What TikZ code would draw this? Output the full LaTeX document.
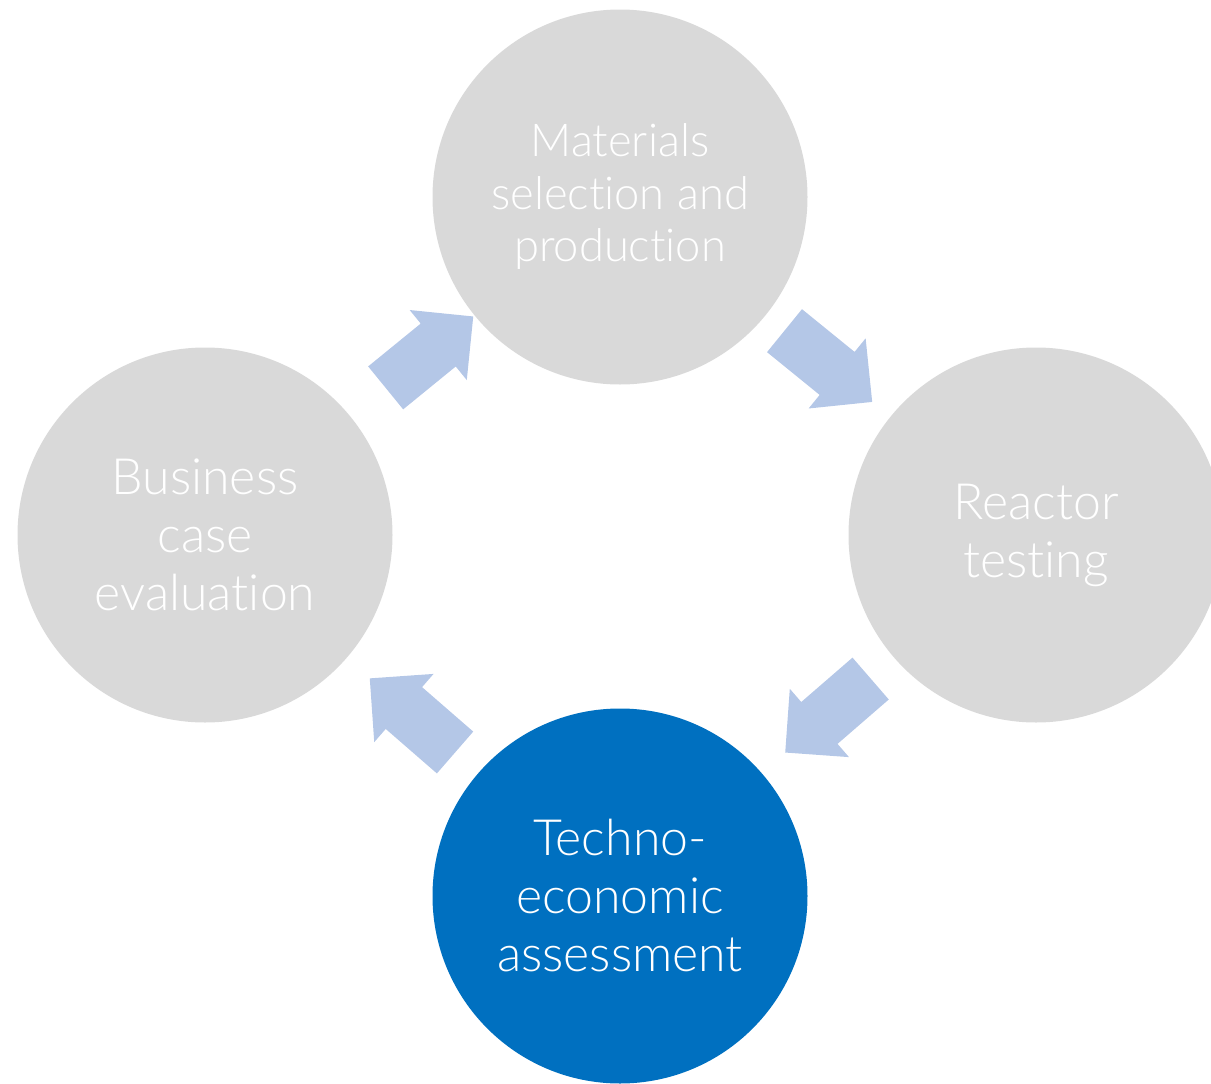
\documentclass[tikz,border=0pt]{standalone}
\usepackage{fontspec}
\setmainfont{Lato}[UprightFont={* Light}, Ligatures={NoCommon}]
\usepackage{xcolor}
\usetikzlibrary{positioning, calc, shapes.arrows}
\definecolor{stagegray}{HTML}{D9D9D9}
\definecolor{stageblue}{HTML}{0070C0}
\definecolor{flowblue}{HTML}{B4C7E7}
\tikzset{
  stage/.style={circle, draw=none, fill=stagegray, minimum size=375pt,
    inner sep=0pt, text=white, align=center,
    font=\fontsize{50}{58}\selectfont}, % one step of the cycle
  active/.style={fill=stageblue}, % the highlighted step
  flow/.style={single arrow, draw=none, fill=flowblue,
    inner xsep=0pt, inner ysep=27.5pt,
    minimum height=113pt, minimum width=90pt,
    single arrow head extend=17.5pt, single arrow tip angle=90}, % block arrows
}

\begin{document}
\begin{tikzpicture}[node distance=338pt and 416pt, on grid]
    \path[use as bounding box, clip] (0,0) rectangle (1211pt,-1084pt);

    \node[stage, font=\fontsize{45.3}{52.5}\selectfont] (mat) at (620pt,-197pt)
      {Materials\\selection and\\production};
    \node[stage, below right=of mat] (reac) {Reactor\\testing};
    \node[stage, active, below=699pt of mat] (tea) {Techno-\\economic\\assessment};
    \node[stage, below left=338pt and 415pt of mat] (busi) {Business\\case\\evaluation};

    % the tip side of a single arrow sits ahead of its centre
    \node[flow, rotate=-39.1] (matreac) at ($(mat)!0.475!(reac)$) {};
    \node[flow, rotate=-139.1] (reactea) at ($(reac)!0.475!(tea)$) {};
    \node[flow, rotate=139] (teabusi) at ($(tea)!0.475!(busi)$) {};
    \node[flow, rotate=39.2] (busimat) at ($(busi)!0.515!(mat)$) {};

  \end{tikzpicture}
\end{document}
